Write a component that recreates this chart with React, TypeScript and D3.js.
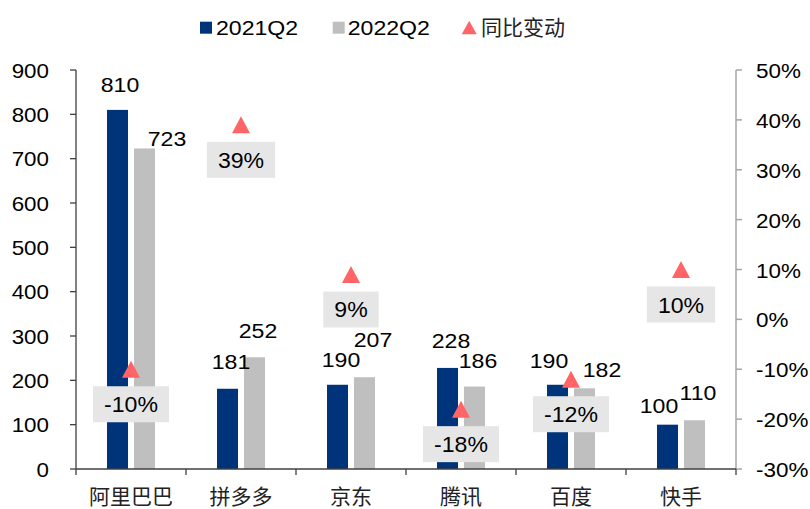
import React, { useEffect } from "react";
import * as d3 from "d3";

const categories = ["阿里巴巴", "拼多多", "京东", "腾讯", "百度", "快手"];
const q2021 = [810, 181, 190, 228, 190, 100];
const q2022 = [723, 252, 207, 186, 182, 110];
const yoy = [-10, 39, 9, -18, -12, 10];
const leftTicks = [0, 100, 200, 300, 400, 500, 600, 700, 800, 900];
const rightTicks = [-30, -20, -10, 0, 10, 20, 30, 40, 50];
const seriesNames = ["2021Q2", "2022Q2", "同比变动"];

// label nudges (dx, baseline offset from bar top), as in the original manual placement
const navyLabelNudge = [[2.5, -18], [3.5, -20], [3.5, -18], [3.5, -20], [-8.5, -17], [-8.5, -12]];
const greyLabelNudge = [[22.5, -2.5], [3.5, -19], [8.5, -30], [3.5, -19], [17.5, -11.5], [3.5, -20]];

const W = 810, H = 509;
const M = { left: 76, right: 736, top: 70, bottom: 469 };
const NAVY = "#00347A";
const GREY = "#BFBFBF";
const RED = "#FF6466";
const BOX = "#E6E6E6";
const LATIN = "'Liberation Sans', Arial, sans-serif";
const CJK = "'Noto Sans CJK SC', sans-serif";

const T = ({ x, y, sx = 1.1, anchor = "middle", size = 21, family = LATIN, fill = "#000", children }: any) => (
  <text transform={`translate(${x},${y}) scale(${sx},1)`} textAnchor={anchor} fontSize={size} fontFamily={family} fill={fill}>
    {children}
  </text>
);

function measure(str: string, font: string) {
  const c = document.createElement("canvas");
  const ctx = c.getContext("2d")!;
  ctx.font = font;
  return ctx.measureText(str).width;
}

function triPath(cx: number, cy: number, w: number, h: number) {
  const p = d3.path();
  p.moveTo(cx, cy - h / 2);
  p.lineTo(cx + w / 2, cy + h / 2);
  p.lineTo(cx - w / 2, cy + h / 2);
  p.closePath();
  return p.toString();
}

export default function App() {
  useEffect(() => {
    document.body.style.margin = "0";
  }, []);

  const x0 = d3.scaleBand<string>().domain(categories).range([M.left, M.right]).padding(0);
  const x1 = d3.scaleBand<string>().domain(["a", "b"]).range([0, 48]).paddingInner(6 / 27).paddingOuter(0);
  const yL = d3.scaleLinear().domain([0, 900]).range([M.bottom, M.top]);
  const yR = d3.scaleLinear().domain([-30, 50]).range([M.bottom, M.top]);
  const center = (c: string) => (x0(c) as number) + x0.bandwidth() / 2;
  const bw = x1.bandwidth();
  const boundaries = categories.map((c) => x0(c) as number).concat([M.right]);

  return (
    <svg width={W} height={H} style={{ position: "absolute", left: 0, top: 0, background: "#fff" }}>
      {/* bars */}
      {categories.map((c, i) => {
        const gx = center(c) - 24;
        return (
          <g key={c}>
            <rect x={gx + (x1("a") as number)} y={yL(q2021[i])} width={bw} height={yL(0) - yL(q2021[i])} fill={NAVY} />
            <rect x={gx + (x1("b") as number)} y={yL(q2022[i])} width={bw} height={yL(0) - yL(q2022[i])} fill={GREY} />
          </g>
        );
      })}

      {/* axes */}
      <line x1={M.left} x2={M.left} y1={M.top} y2={M.bottom} stroke="#404040" strokeWidth={1.3} />
      {leftTicks.map((t) => (
        <g key={t}>
          <line x1={M.left - 6} x2={M.left} y1={yL(t)} y2={yL(t)} stroke="#404040" strokeWidth={1.3} />
          <T x={49} y={yL(t) + 7.5} anchor="end" size={20} sx={1.12}>{t}</T>
        </g>
      ))}
      <line x1={M.right} x2={M.right} y1={M.top} y2={M.bottom} stroke="#A6A6A6" strokeWidth={1.5} />
      {rightTicks.map((t) => (
        <g key={t}>
          <line x1={M.right} x2={M.right + 6} y1={yR(t)} y2={yR(t)} stroke="#A6A6A6" strokeWidth={1.5} />
          <T x={756} y={yR(t) + 8} anchor="start" size={21} sx={1.07}>{t + "%"}</T>
        </g>
      ))}
      <line x1={M.left} x2={M.right} y1={M.bottom} y2={M.bottom} stroke="#404040" strokeWidth={1.3} />
      {boundaries.map((b, i) => (
        <line key={i} x1={b} x2={b} y1={M.bottom} y2={M.bottom + 6} stroke="#404040" strokeWidth={1.3} />
      ))}
      {categories.map((c) => (
        <text key={c} x={center(c)} y={504} textAnchor="middle" fontSize={21} fontFamily={CJK} fill="#222">
          {c}
        </text>
      ))}

      {/* value labels */}
      {categories.map((c, i) => {
        const gx = center(c) - 24;
        const na = gx + (x1("a") as number) + bw / 2;
        const nb = gx + (x1("b") as number) + bw / 2;
        return (
          <g key={"v" + c}>
            <T x={na + navyLabelNudge[i][0]} y={yL(q2021[i]) + navyLabelNudge[i][1]}>{q2021[i]}</T>
            <T x={nb + greyLabelNudge[i][0]} y={yL(q2022[i]) + greyLabelNudge[i][1]}>{q2022[i]}</T>
          </g>
        );
      })}

      {/* yoy markers */}
      {categories.map((c, i) => {
        const cx = center(c);
        const cy = yR(yoy[i]);
        const label = yoy[i] + "%";
        const w = measure(label, `22px 'Liberation Sans', Arial`) * 1.05 + 22;
        return (
          <g key={"p" + c}>
            <path d={triPath(cx, cy, 18, 17)} fill={RED} />
            <rect x={cx - w / 2} y={cy + 17} width={w} height={36} fill={BOX} />
            <T x={cx} y={cy + 17 + 18 + 8} size={22} sx={1.05}>{label}</T>
          </g>
        );
      })}

      {/* legend */}
      <rect x={200} y={21.7} width={12} height={12} fill={NAVY} />
      <T x={216} y={35} anchor="start" size={21} sx={1.1}>{seriesNames[0]}</T>
      <rect x={332.7} y={21.7} width={12} height={12} fill={GREY} />
      <T x={347.7} y={35} anchor="start" size={21} sx={1.1}>{seriesNames[1]}</T>
      <path d={triPath(469.2, 27.5, 15, 13.6)} fill={RED} />
      <text x={481} y={34.5} fontSize={21} fontFamily={CJK} fill="#222">{seriesNames[2]}</text>
    </svg>
  );
}
